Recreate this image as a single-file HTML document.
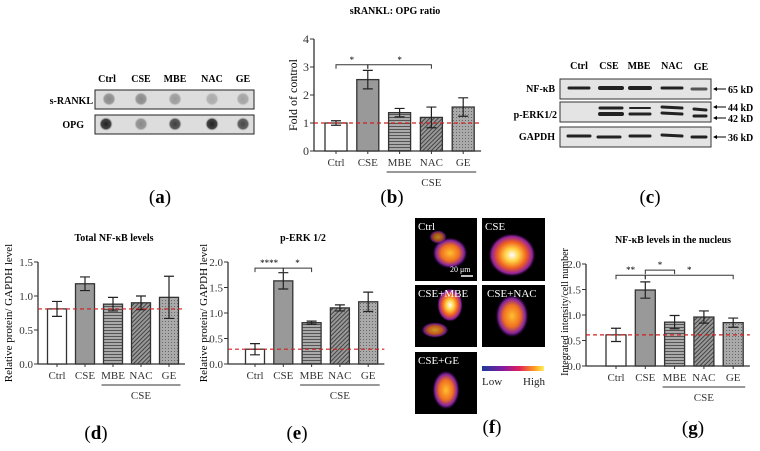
<!DOCTYPE html>
<html><head><meta charset="utf-8"><style>
body{margin:0;background:#fff}
svg{display:block;font-family:"Liberation Serif",serif}
</style></head><body>
<svg id="fig" width="760" height="451" viewBox="0 0 760 451">
<defs>
<pattern id="hstripe" width="4" height="3" patternUnits="userSpaceOnUse"><rect width="4" height="3" fill="#aaa"/><rect width="4" height="1" fill="#555"/></pattern>
<pattern id="dstripe" width="3" height="3" patternUnits="userSpaceOnUse" patternTransform="rotate(45)"><rect width="3" height="3" fill="#999"/><rect width="1" height="3" fill="#444"/></pattern>
<pattern id="dots" width="3" height="3" patternUnits="userSpaceOnUse"><rect width="3" height="3" fill="#aaa"/><rect width="1" height="1" fill="#666"/></pattern>
<linearGradient id="cbar" x1="0" x2="1"><stop offset="0" stop-color="#1a3a9a"/><stop offset="0.35" stop-color="#8a1aa0"/><stop offset="0.6" stop-color="#e0205a"/><stop offset="0.85" stop-color="#ffa020"/><stop offset="1" stop-color="#fff060"/></linearGradient>
<radialGradient id="hot"><stop offset="0" stop-color="#fff"/><stop offset="0.3" stop-color="#ffd040"/><stop offset="0.6" stop-color="#f06020"/><stop offset="0.85" stop-color="#9020a0"/><stop offset="1" stop-color="#000" stop-opacity="0"/></radialGradient>
<radialGradient id="warm"><stop offset="0" stop-color="#ffc030"/><stop offset="0.5" stop-color="#f07020"/><stop offset="0.8" stop-color="#8020a0"/><stop offset="1" stop-color="#000" stop-opacity="0"/></radialGradient>
<radialGradient id="dot"><stop offset="0" stop-color="#222"/><stop offset="0.7" stop-color="#444"/><stop offset="1" stop-color="#ddd" stop-opacity="0"/></radialGradient>
<radialGradient id="dotl"><stop offset="0" stop-color="#888"/><stop offset="0.7" stop-color="#999"/><stop offset="1" stop-color="#ddd" stop-opacity="0"/></radialGradient>
</defs>

<g font-size="10" font-weight="bold">
<text x="107" y="82" text-anchor="middle">Ctrl</text><text x="141" y="82" text-anchor="middle">CSE</text><text x="175" y="82" text-anchor="middle">MBE</text><text x="212" y="82" text-anchor="middle">NAC</text><text x="243" y="82" text-anchor="middle">GE</text>
<text x="93" y="104" text-anchor="end">s-RANKL</text><text x="84" y="128" text-anchor="end">OPG</text>
<rect x="95" y="90" width="159" height="19" fill="#ddd" stroke="#222"/>
<rect x="95" y="115" width="159" height="19" fill="#ddd" stroke="#222"/>
<circle cx="109" cy="99" r="7" fill="url(#dotl)"/><circle cx="141" cy="99" r="7" fill="url(#dotl)"/><circle cx="175" cy="99" r="7" fill="url(#dotl)" opacity="0.8"/><circle cx="212" cy="99" r="7" fill="url(#dotl)" opacity="0.6"/><circle cx="243" cy="99" r="7" fill="url(#dotl)" opacity="0.7"/>
<circle cx="106" cy="124" r="7" fill="url(#dot)"/><circle cx="141" cy="124" r="7" fill="url(#dotl)"/><circle cx="175" cy="124" r="7" fill="url(#dot)" opacity="0.85"/><circle cx="212" cy="124" r="7" fill="url(#dot)"/><circle cx="243" cy="124" r="7" fill="url(#dot)" opacity="0.8"/>
</g>
<text x="160" y="203" font-size="19" text-anchor="middle">(<tspan font-weight="bold">a</tspan>)</text>

<g font-size="10" font-weight="bold">
<text x="579" y="69" text-anchor="middle">Ctrl</text><text x="609" y="69" text-anchor="middle">CSE</text><text x="639" y="69" text-anchor="middle">MBE</text><text x="672" y="69" text-anchor="middle">NAC</text><text x="701" y="70" text-anchor="middle">GE</text>
<text x="555" y="92" text-anchor="end">NF-κB</text><text x="557" y="118" text-anchor="end">p-ERK1/2</text><text x="555" y="140" text-anchor="end">GAPDH</text>
<rect x="560" y="79" width="151" height="20" fill="#e4e4e4" stroke="#333"/>
<rect x="560" y="102" width="151" height="20" fill="#e4e4e4" stroke="#333"/>
<rect x="560" y="127" width="151" height="20" fill="#e4e4e4" stroke="#333"/>
<g stroke="#222" stroke-linecap="round">
<line x1="569" y1="88" x2="589" y2="88" stroke-width="3"/><line x1="600" y1="88" x2="622" y2="88" stroke-width="4"/><line x1="630" y1="88" x2="650" y2="88" stroke-width="4"/><line x1="662" y1="88" x2="682" y2="88" stroke-width="3"/><line x1="692" y1="89" x2="706" y2="89" stroke-width="3" stroke="#555"/>
<line x1="600" y1="108" x2="622" y2="108" stroke-width="3"/><line x1="600" y1="114" x2="622" y2="114" stroke-width="4"/><line x1="630" y1="108" x2="650" y2="108" stroke-width="2"/><line x1="630" y1="114" x2="650" y2="114" stroke-width="3"/><line x1="662" y1="107" x2="682" y2="108" stroke-width="3"/><line x1="662" y1="113" x2="682" y2="114" stroke-width="3"/><line x1="694" y1="109" x2="706" y2="110" stroke-width="3"/><line x1="694" y1="116" x2="706" y2="116" stroke-width="3"/>
<line x1="568" y1="136" x2="590" y2="136" stroke-width="3"/><line x1="598" y1="137" x2="620" y2="137" stroke-width="3"/><line x1="630" y1="136" x2="650" y2="136" stroke-width="3"/><line x1="662" y1="135" x2="682" y2="136" stroke-width="3"/><line x1="692" y1="137" x2="706" y2="137" stroke-width="3"/>
</g>
<g stroke="#000" stroke-width="1"><line x1="714" y1="89" x2="726" y2="89"/><line x1="714" y1="107" x2="726" y2="107"/><line x1="714" y1="118" x2="726" y2="118"/><line x1="714" y1="137" x2="726" y2="137"/></g>
<g fill="#000"><path d="M713 89l4-2v4z"/><path d="M713 107l4-2v4z"/><path d="M713 118l4-2v4z"/><path d="M713 137l4-2v4z"/></g>
<text x="728" y="93">65 kD</text><text x="728" y="111">44 kD</text><text x="728" y="122">42 kD</text><text x="728" y="141">36 kD</text>
</g>
<text x="650" y="203" font-size="19" text-anchor="middle">(<tspan font-weight="bold">c</tspan>)</text>

<g font-size="11" fill="#fff">
<rect x="415" y="218" width="62" height="63" fill="#000"/><rect x="482" y="218" width="63" height="63" fill="#000"/>
<rect x="415" y="285" width="62" height="62" fill="#000"/><rect x="482" y="285" width="63" height="62" fill="#000"/>
<rect x="415" y="352" width="62" height="62" fill="#000"/>
<ellipse cx="450" cy="253" rx="18" ry="16" fill="url(#warm)"/><ellipse cx="438" cy="237" rx="9" ry="7" fill="url(#warm)" opacity="0.7"/>
<ellipse cx="512" cy="255" rx="24" ry="22" fill="url(#hot)"/>
<ellipse cx="450" cy="305" rx="13" ry="17" fill="url(#hot)"/><ellipse cx="435" cy="330" rx="14" ry="8" fill="url(#warm)" opacity="0.8"/>
<ellipse cx="512" cy="316" rx="17" ry="22" fill="url(#warm)"/>
<ellipse cx="446" cy="390" rx="14" ry="20" fill="url(#warm)"/>
<text x="418" y="230">Ctrl</text><text x="485" y="230">CSE</text><text x="418" y="297">CSE+MBE</text><text x="487" y="297">CSE+NAC</text><text x="418" y="364">CSE+GE</text>
<text x="450" y="272" font-size="8">20 μm</text><line x1="461" y1="276" x2="473" y2="276" stroke="#fff" stroke-width="1.5"/>
<rect x="482" y="366" width="62" height="5" fill="url(#cbar)"/>
<text x="482" y="385" fill="#222" font-size="11">Low</text><text x="545" y="385" fill="#222" font-size="11" text-anchor="end">High</text>
</g>
<text x="492" y="433" font-size="19" text-anchor="middle">(<tspan font-weight="bold">f</tspan>)</text>

<g id="charts"></g>
</svg>
<script>
const categories=["Ctrl","CSE","MBE","NAC","GE"];
const bValues=[1.0,2.55,1.37,1.2,1.57];
const bErrors=[0.08,0.33,0.15,0.37,0.33];
const bTicks=[0,1,2,3,4];
const dValues=[0.81,1.18,0.88,0.9,0.98];
const dErrors=[0.11,0.1,0.1,0.1,0.31];
const dTicks=["0.0","0.5","1.0","1.5"];
const eValues=[0.29,1.63,0.81,1.1,1.22];
const eErrors=[0.11,0.16,0.03,0.06,0.19];
const eTicks=["0.0","0.5","1.0","1.5","2.0"];
const gValues=[0.61,1.49,0.86,0.96,0.85];
const gErrors=[0.13,0.16,0.13,0.12,0.09];
const gTicks=["0.0","0.5","1.0","1.5","2.0"];

const NS="http://www.w3.org/2000/svg";
const root=document.getElementById('charts');
const fills=["#fff","#999","url(#hstripe)","url(#dstripe)","url(#dots)"];
function mk(tag,attrs,parent,txt){const e=document.createElementNS(NS,tag);for(const k in attrs)e.setAttribute(k,attrs[k]);if(txt!==undefined)e.textContent=txt;parent.appendChild(e);return e;}

function chart(c){
  const g=mk('g',{},root);
  
  
  const y=v=>c.y0-(v/c.max)*(c.y0-c.yTop);
  const x=i=>c.x0+c.first+i*c.step;
  const t=mk('text',{x:c.titleX,y:c.titleY,'font-size':10,'font-weight':'bold','text-anchor':'middle'},g,c.title);
  
  
  const yc=c.ylY||(c.y0+c.yTop)/2;
  const yl=mk('text',{x:c.ylX,y:yc,'font-size':c.ylSize||11,'text-anchor':'middle',transform:`rotate(-90 ${c.ylX} ${yc})`},g,c.ylabel);
  
  
  mk('line',{x1:c.x0,y1:c.yTop,x2:c.x0,y2:c.y0,stroke:'#333','stroke-width':1.3},g);
  const lastX=x(categories.length-1)+c.step/2+2;
  mk('line',{x1:c.x0,y1:c.y0,x2:lastX,y2:c.y0,stroke:'#333','stroke-width':1.3},g);
  c.ticks.forEach((tk,i)=>{const v=i*c.max/(c.ticks.length-1);const yy=y(v);
    mk('line',{x1:c.x0-4,y1:yy,x2:c.x0,y2:yy,stroke:'#333'},g);
    const tl=mk('text',{x:c.x0-5,y:yy+4,'font-size':c.tickSize||11,'text-anchor':'end',fill:'#333'},g,tk);
    
    
  });
  c.values.forEach((v,i)=>{
    const cx=x(i);
    const r=mk('rect',{x:cx-c.bw/2,y:y(v),width:c.bw,height:c.y0-y(v),fill:fills[i],stroke:'#333','stroke-width':1.3},g);
    
    
    const e=c.errors[i];
    mk('path',{d:`M${cx} ${y(v+e)}V${y(v-e)}M${cx-5} ${y(v+e)}h10M${cx-5} ${y(v-e)}h10`,stroke:'#222','stroke-width':1.2,fill:'none'},g);
    mk('line',{x1:cx,y1:c.y0,x2:cx,y2:c.y0+3,stroke:'#333'},g);
    const xl=mk('text',{x:cx,y:c.y0+15,'font-size':11,'text-anchor':'middle',fill:'#333'},g,categories[i]);
    
    
  });
  const dl=mk('line',{x1:c.x0,y1:y(c.values[0]),x2:lastX,y2:y(c.values[0]),stroke:'#d02020','stroke-width':1.2,'stroke-dasharray':'4 3'},g);
  
  
  mk('line',{x1:x(2)-c.bw/2-2,y1:c.y0+21,x2:x(4)+c.bw/2+2,y2:c.y0+21,stroke:'#333'},g);
  mk('text',{x:x(3),y:c.y0+35,'font-size':11,'text-anchor':'middle',fill:'#333'},g,'CSE');
  (c.sig||[]).forEach(s=>{
    const yy=y(s[2]);
    mk('path',{d:`M${x(s[0])} ${yy+4}V${yy}H${x(s[1])}V${yy+4}`,stroke:'#333',fill:'none'},g);
    mk('text',{x:(x(s[0])+x(s[1]))/2,y:yy-2,'font-size':9,'text-anchor':'middle'},g,s[3]);
  });
  const lb=mk('text',{x:c.labX,y:c.labY,'font-size':19,'text-anchor':'middle'},g,'(');
  mk('tspan',{'font-weight':'bold'},lb,c.lab);
  lb.appendChild(document.createTextNode(')'));
  
  
}
chart({name:'chart-b-rankl-opg',values:bValues,errors:bErrors,ticks:bTicks,max:4,x0:314,y0:151,yTop:39,first:22,step:31.8,bw:22,
  title:'sRANKL: OPG ratio',titleX:395,titleY:14,ylabel:'Fold of control',ylX:297,ylSize:12,tickSize:12,
  sig:[[0,1,3.08,'*'],[1,3,3.08,'*']],lab:'b',labX:392,labY:203});
chart({name:'chart-d-total-nfkb',values:dValues,errors:dErrors,ticks:dTicks,max:1.5,x0:38,y0:364,yTop:262,first:19,step:28,bw:19,
  title:'Total NF-κB levels',titleX:114,titleY:241,ylabel:'Relative protein/ GAPDH level',ylX:12,lab:'d',labX:96,labY:439});
chart({name:'chart-e-perk',values:eValues,errors:eErrors,ticks:eTicks,max:2,x0:228,y0:364,yTop:262,first:27,step:28.3,bw:19,
  title:'p-ERK 1/2',titleX:303,titleY:241,ylabel:'Relative protein/ GAPDH level',ylX:207,
  sig:[[0,1,1.88,'****'],[1,2,1.88,'*']],lab:'e',labX:297,labY:439});
chart({name:'chart-g-nuclear-nfkb',values:gValues,errors:gErrors,ticks:gTicks,max:2,x0:586,y0:366,yTop:264,first:30,step:29.3,bw:20,
  title:'NF-κB levels in the nucleus',titleX:673,titleY:243,ylabel:'Integrated intensity/cell number',ylX:568,ylY:312,ylSize:10,
  sig:[[0,1,1.78,'**'],[1,2,1.88,'*'],[1,4,1.78,'*']],lab:'g',labX:693,labY:434});
</script>
</body></html>
